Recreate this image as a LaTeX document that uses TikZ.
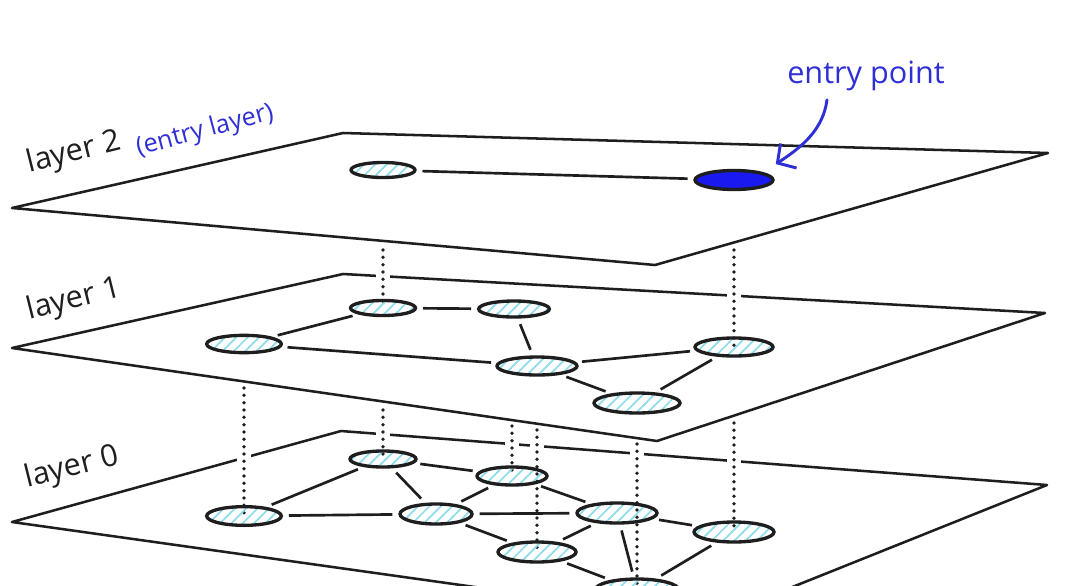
\documentclass[tikz,border=0pt]{standalone}
\usepackage{fontspec}
\setmainfont{Open Sans}
\usetikzlibrary{arrows.meta,calc,positioning,shapes.geometric,patterns.meta,backgrounds}
\definecolor{ink}{HTML}{1E1E1E}
\definecolor{entryblue}{HTML}{1A1AF0}
\definecolor{noteblue}{HTML}{2F2FD6}
\definecolor{hatchcyan}{HTML}{8EDCE8}

\begin{document}
\begin{tikzpicture}[x=0.75pt,y=-0.75pt,
  font=\fontsize{23}{26}\selectfont, text=ink,
  plane/.style={draw=ink,line width=1.9pt,line join=round},
  vert/.style={ellipse,draw=ink,line width=2.5pt,inner sep=0pt,
               preaction={pattern={Lines[angle=45,distance=6pt,line width=1.3pt]},pattern color=hatchcyan}},
  entryvert/.style={ellipse,draw=ink,line width=2.5pt,inner sep=0pt,fill=entryblue},
  link/.style={draw=ink,line width=2pt,shorten <=4.5pt,shorten >=4.5pt},
  jump/.style={draw=ink,line width=2.8pt,line cap=round,dash pattern=on 0pt off 5.5pt,
               preaction={draw=white,solid,line cap=butt,line width=11pt}},
  pointer/.style={-{Straight Barb[length=10pt,width=22pt]},draw=noteblue,line width=2.2pt,line cap=round},
  layerlabel/.style={inner sep=2pt,rotate=14},
  note/.style={inner sep=2pt,text=noteblue}
]
\useasboundingbox (0,0) rectangle (1080,585);
\clip (0,0) rectangle (1080,585);

% layer 2
\node[vert,minimum width=48pt,minimum height=11.25pt] (top1) at (383,170) {};
\node[entryvert,minimum width=58.5pt,minimum height=14.25pt] (entry) at (734,180) {};

% layer 1
\node[vert,minimum width=48.75pt,minimum height=11.25pt] (mid1) at (383,308) {};
\node[vert,minimum width=53pt,minimum height=12pt] (mid2) at (514,309) {};
\node[vert,minimum width=56pt,minimum height=13pt] (mid3) at (244,344) {};
\node[vert,minimum width=60pt,minimum height=13.5pt] (mid4) at (537,366) {};
\node[vert,minimum width=58.5pt,minimum height=13.5pt] (mid5) at (734,347) {};
\node[vert,minimum width=64.5pt,minimum height=15pt] (mid6) at (637,403) {};

% layer 0
\node[vert,minimum width=49.5pt,minimum height=12pt] (low1) at (383,459) {};
\node[vert,minimum width=52.5pt,minimum height=13.5pt] (low2) at (512,476) {};
\node[vert,minimum width=56pt,minimum height=14pt] (low3) at (244,516) {};
\node[vert,minimum width=54pt,minimum height=15pt] (low4) at (436,514) {};
\node[vert,minimum width=60pt,minimum height=15pt] (low5) at (617,513) {};
\node[vert,minimum width=58.5pt,minimum height=15pt] (low6) at (537,552) {};
\node[vert,minimum width=60pt,minimum height=15pt] (low7) at (734,532) {};
\node[vert,minimum width=63pt,minimum height=16.5pt] (low8) at (637,590) {};

\coordinate (j1) at (383,250);
\coordinate (j2) at (734,250);
\coordinate (j3) at (244,388);
\coordinate (j4) at (383,410);
\coordinate (j5) at (512,426);
\coordinate (j6) at (537,430);
\coordinate (j7) at (637,444);
\coordinate (j8) at (734,423);

\begin{scope}[on background layer]
  \draw[plane] (12,522) -- (341,431) -- (1047,485) -- (710,620) -- cycle;
  \draw[plane] (12,348) -- (343,274) -- (1045,313) -- (657,441) -- cycle;
  \draw[plane] (12,208) -- (343,133) -- (1048,153) -- (655,265) -- cycle;

  \draw[jump] (j1) -- (mid1.center);
  \draw[jump] (j2) -- (mid5.center);
  \draw[jump] (j3) -- (low3.center);
  \draw[jump] (j4) -- (low1.center);
  \draw[jump] (j5) -- (low2.center);
  \draw[jump] (j6) -- (low6.center);
  \draw[jump] (j7) -- (low8.center);
  \draw[jump] (j8) -- (low7.center);

  \draw[link] (top1) -- (entry);
  \foreach \a/\b in {mid1/mid2,mid1/mid3,mid3/mid4,mid2/mid4,mid4/mid5,mid4/mid6,mid5/mid6}
    \draw[link] (\a) -- (\b);
  \foreach \a/\b in {low1/low3,low1/low4,low1/low2,low3/low4,low2/low4,low2/low5,low4/low5,
                     low4/low6,low5/low6,low5/low7,low5/low8,low6/low8,low7/low8}
    \draw[link] (\a) -- (\b);
\end{scope}

\node[layerlabel] (lab2) at (74,153) {layer 2};
\node[note,rotate=15,font=\fontsize{19}{22}\selectfont] (entrylayer) at (205,131) {(entry layer)};
\node[layerlabel] (lab1) at (74,300) {layer 1};
\node[layerlabel] (lab0) at (72,468) {layer 0};

\node[note] (entrylabel) at (866,76) {entry point};
\draw[pointer] ([shift={(-39,6)}]entrylabel.south) .. controls +(-4,30) and +(26,-17) .. ([shift={(13,-8)}]entry.north east);
\end{tikzpicture}
\end{document}
